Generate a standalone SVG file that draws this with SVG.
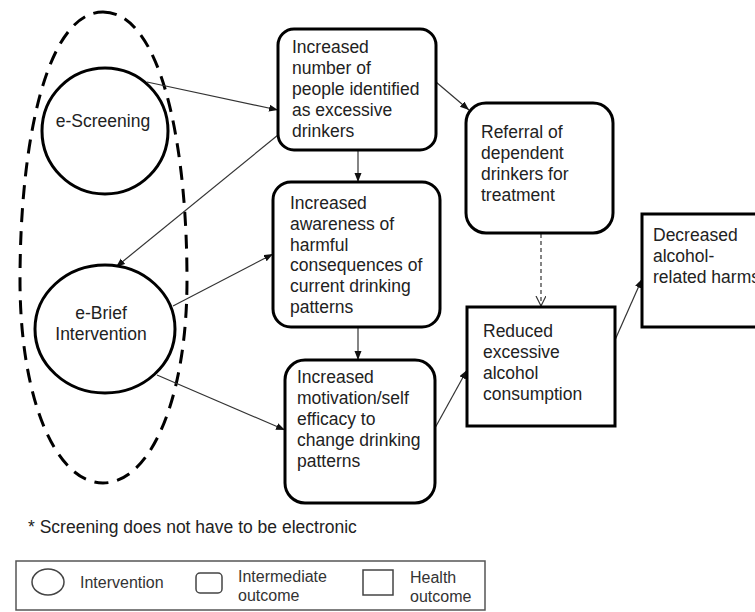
<svg xmlns="http://www.w3.org/2000/svg" width="755" height="612" viewBox="0 0 755 612">
<defs>
<style>
text{font-family:"Liberation Sans",Arial,sans-serif;font-size:17.5px;fill:#222}
.node{fill:#fff;stroke:#000;stroke-width:3}
.conn{stroke:#333;stroke-width:1.2;fill:none}
.leg text{font-size:16px;fill:#333}
.legshape{fill:#fff;stroke:#444;stroke-width:1.5}
</style>
<marker id="arr" markerUnits="userSpaceOnUse" markerWidth="10" markerHeight="8" refX="9" refY="3.5" orient="auto">
<path d="M0,0 L9,3.5 L0,7 z" fill="#111"/>
</marker>
<marker id="open" markerUnits="userSpaceOnUse" markerWidth="12" markerHeight="12" refX="10" refY="5" orient="auto">
<path d="M0,0 L10,5 L0,10" fill="none" stroke="#333" stroke-width="1.2"/>
</marker>
</defs>
<rect width="755" height="612" fill="#fff"/>

<g id="group-ellipse">
<path d="M103,12 C160,12 187,140 187,280 C187,400 150,483 103,483 C56,483 20,400 20,280 C20,140 47,12 103,12 Z" fill="none" stroke="#000" stroke-width="3" stroke-dasharray="14 9"/>
</g>

<g id="connectors">
<line class="conn" x1="147" y1="82" x2="278" y2="110" marker-end="url(#arr)"/>
<line class="conn" x1="278" y1="135" x2="116" y2="267" marker-end="url(#arr)"/>
<line class="conn" x1="358" y1="150" x2="358" y2="182" marker-end="url(#arr)"/>
<line class="conn" x1="173" y1="306" x2="273" y2="254" marker-end="url(#arr)"/>
<line class="conn" x1="157" y1="375" x2="285" y2="430" marker-end="url(#arr)"/>
<line class="conn" x1="358" y1="327" x2="358" y2="360" marker-end="url(#arr)"/>
<line class="conn" x1="436" y1="82" x2="469" y2="110" marker-end="url(#arr)"/>
<line class="conn" x1="541" y1="234" x2="541" y2="306" stroke-dasharray="4 3" marker-end="url(#open)"/>
<line class="conn" x1="435" y1="428" x2="467" y2="370" marker-end="url(#arr)"/>
<line class="conn" x1="615" y1="340" x2="642" y2="279" marker-end="url(#arr)"/>
</g>

<g id="e-screening">
<circle class="node" cx="105" cy="131" r="63"/>
<text x="103" y="127" text-anchor="middle">e-Screening</text>
</g>

<g id="e-brief">
<ellipse class="node" cx="105" cy="329" rx="70" ry="64"/>
<text x="101" y="319" text-anchor="middle">e-Brief</text>
<text x="101" y="340" text-anchor="middle">Intervention</text>
</g>

<g id="identified">
<rect class="node" x="278" y="29" width="158" height="121" rx="16"/>
<text x="292" y="53">Increased</text>
<text x="292" y="74">number of</text>
<text x="292" y="95">people identified</text>
<text x="292" y="116">as excessive</text>
<text x="292" y="137">drinkers</text>
</g>

<g id="awareness">
<rect class="node" x="273" y="182" width="167" height="145" rx="18"/>
<text x="290" y="209">Increased</text>
<text x="290" y="230">awareness of</text>
<text x="290" y="251">harmful</text>
<text x="290" y="271">consequences of</text>
<text x="290" y="292">current drinking</text>
<text x="290" y="313">patterns</text>
</g>

<g id="motivation">
<rect class="node" x="285" y="360" width="150" height="143" rx="20"/>
<text x="297" y="383">Increased</text>
<text x="297" y="404">motivation/self</text>
<text x="297" y="425">efficacy to</text>
<text x="297" y="446">change drinking</text>
<text x="297" y="467">patterns</text>
</g>

<g id="referral">
<rect class="node" x="466" y="103" width="147" height="130" rx="20"/>
<text x="481" y="138">Referral of</text>
<text x="481" y="159">dependent</text>
<text x="481" y="180">drinkers for</text>
<text x="481" y="201">treatment</text>
</g>

<g id="reduced">
<rect class="node" x="467" y="307" width="148" height="119"/>
<text x="483" y="337">Reduced</text>
<text x="483" y="358">excessive</text>
<text x="483" y="379">alcohol</text>
<text x="483" y="400">consumption</text>
</g>

<g id="decreased">
<rect class="node" x="642" y="214" width="120" height="113"/>
<text x="653" y="241">Decreased</text>
<text x="653" y="262">alcohol-</text>
<text x="653" y="283">related harms</text>
</g>

<g id="footnote">
<text x="28" y="533">* Screening does not have to be electronic</text>
</g>

<g id="legend" class="leg">
<rect x="16" y="561" width="469" height="49" fill="#fff" stroke="#555" stroke-width="1.5"/>
<ellipse class="legshape" cx="48" cy="582" rx="16" ry="13"/>
<text x="80" y="588">Intervention</text>
<rect class="legshape" x="196" y="573" width="26" height="20" rx="4"/>
<text x="238" y="582">Intermediate</text>
<text x="238" y="601">outcome</text>
<rect class="legshape" x="363" y="570" width="30" height="25"/>
<text x="410" y="583">Health</text>
<text x="410" y="602">outcome</text>
</g>
</svg>
